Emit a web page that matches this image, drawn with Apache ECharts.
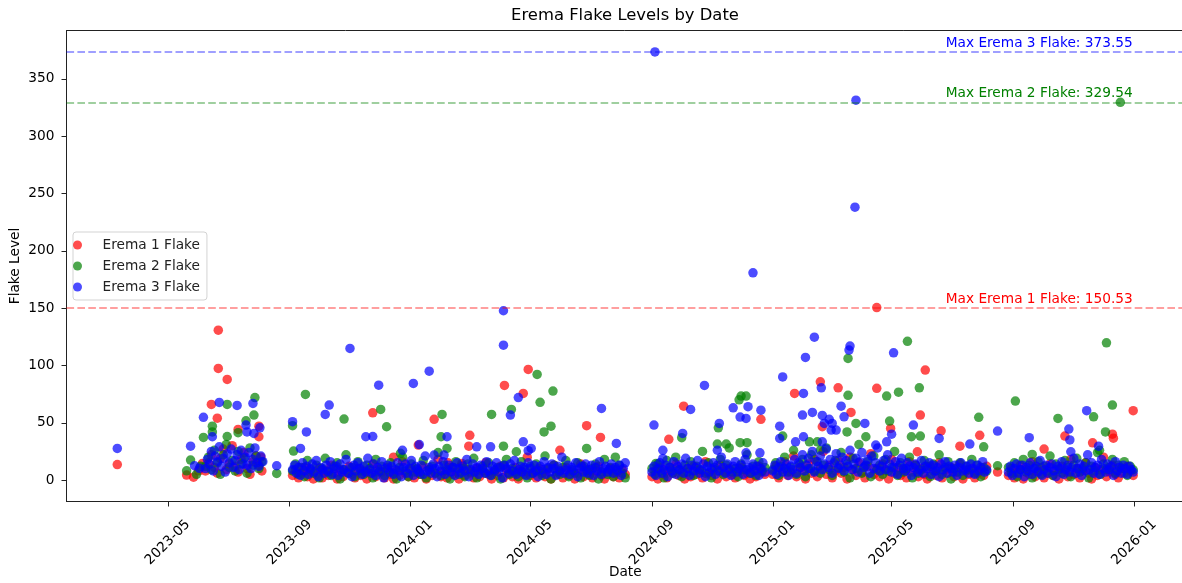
<!DOCTYPE html>
<html>
<head>
<meta charset="utf-8">
<title>Erema Flake Levels by Date</title>
<script src="https://cdn.jsdelivr.net/npm/echarts@6/dist/echarts.min.js"></script>
<style>
  html, body { margin: 0; padding: 0; background: #fff; }
  #chart { width: 1182px; height: 583px; }
</style>
</head>
<body>
<div id="chart"></div>
<script>
// each run of routine readings starts on one of these dates
const runStarts = ['2023-06-08', '2023-09-04', '2024-09-01', '2025-01-01', '2025-08-27']

// days between routine readings
const erema1Step = 3
const erema2Step = 3
const erema3Step = 2

// routine readings, one list per run
const erema1Runs = [
  [8, 15, 22, 11, 6, 19, 27, 9, 14, 30, 12, 7, 18, 24, 10, 5, 16, 21, 13, 8],
  [4, 9, 2, 6, 11, 3, 7, 1, 5, 10, 2, 8, 4, 13, 6, 1, 9, 3, 7, 12,
   5, 2, 10, 4, 8, 1, 6, 14, 3, 9, 7, 2, 11, 5, 1, 8, 4, 16, 6, 3,
   10, 2, 7, 5, 12, 1, 9, 4, 6, 18, 3, 8, 2, 11, 5, 7, 1, 13, 4, 9,
   6, 2, 10, 3, 8, 15, 5, 1, 7, 4, 12, 2, 9, 6, 3, 11, 1, 8, 5, 20,
   4, 7, 2, 10, 6, 3, 9, 1, 13, 5, 8, 2, 11, 4, 7, 1, 6, 14, 3, 9,
   5, 2, 8, 12, 4, 1, 7, 10, 3, 6, 2, 9, 5],
  [3, 8, 1, 11, 5, 2, 9, 6, 14, 4, 7, 1, 10, 3, 12, 5, 8, 2, 16, 6,
   4, 9, 1, 13, 7, 3, 10, 5, 2, 8, 11, 4, 6, 1, 9, 3, 12, 7, 5],
  [5, 12, 2, 9, 16, 4, 7, 21, 3, 11, 8, 1, 14, 6, 18, 3, 10, 25, 5, 13,
   2, 8, 17, 6, 11, 1, 20, 9, 4, 15, 7, 2, 12, 23, 5, 10, 3, 14, 8, 1,
   18, 6, 11, 4, 9, 2, 16, 7, 13, 3, 10, 5, 1, 12, 8, 4, 15, 2, 9, 6,
   11, 3, 7, 14, 1, 8, 5, 10, 2, 6, 9, 4, 12],
  [4, 10, 2, 7, 13, 1, 9, 5, 16, 3, 8, 11, 2, 6, 14, 4, 9, 1, 12, 7,
   3, 18, 5, 10, 2, 8, 15, 6, 1, 11, 4, 9, 20, 3, 7, 13, 5, 2, 10, 6,
   12, 8, 4]
]
const erema2Runs = [
  [12, 20, 9, 26, 15, 5, 22, 31, 11, 17, 8, 25, 14, 19, 6, 28, 13, 21, 10, 16],
  [8, 14, 5, 11, 3, 17, 9, 6, 13, 2, 10, 19, 7, 4, 12, 15, 1, 9, 22, 6,
   11, 3, 16, 8, 5, 13, 10, 2, 18, 7, 12, 4, 9, 15, 6, 1, 11, 20, 8, 3,
   14, 7, 10, 5, 17, 2, 9, 12, 6, 24, 4, 13, 8, 1, 11, 16, 5, 10, 3, 14,
   7, 19, 2, 9, 12, 6, 15, 4, 8, 11, 1, 13, 18, 5, 10, 7, 3, 16, 9, 2,
   12, 6, 14, 8, 4, 21, 10, 1, 13, 7, 5, 11, 17, 3, 9, 6, 15, 2, 12, 8,
   4, 10, 14, 1, 7, 18, 5, 11, 3, 9, 13, 6, 2],
  [10, 5, 14, 8, 2, 17, 11, 6, 20, 9, 3, 13, 7, 16, 4, 12, 9, 25, 6, 15,
   2, 11, 8, 18, 5, 13, 28, 7, 10, 3, 14, 9, 22, 6, 12, 4, 16, 8, 11],
  [9, 15, 4, 12, 20, 7, 11, 26, 5, 14, 18, 3, 10, 22, 8, 16, 6, 13, 28, 9,
   4, 17, 11, 24, 7, 14, 2, 19, 10, 31, 6, 12, 16, 3, 21, 9, 13, 5, 18, 8,
   11, 25, 4, 15, 7, 10, 20, 2, 13, 6, 9, 17, 12, 3, 14, 8, 22, 5, 11, 16,
   1, 10, 7, 15, 4, 12, 9, 18, 6, 13, 3, 11, 8],
  [11, 6, 15, 3, 9, 18, 7, 13, 2, 10, 16, 5, 12, 8, 21, 4, 14, 9, 6, 17,
   11, 3, 13, 19, 7, 10, 15, 2, 12, 8, 24, 5, 14, 9, 11, 18, 6, 13, 10, 16,
   4, 12, 9]
]
const erema3Runs = [
  [10, 18, 14, 25, 8, 21, 16, 29, 12, 19, 7, 23, 15, 27, 11, 17, 22, 9, 26, 14,
   20, 13, 24, 10, 18, 28, 15, 12, 21, 16],
  [9, 13, 6, 11, 4, 15, 8, 12, 5, 10, 14, 7, 17, 3, 11, 9, 6, 13, 8, 16,
   5, 10, 12, 4, 14, 7, 9, 18, 6, 11, 3, 13, 8, 15, 10, 5, 12, 7, 19, 9,
   6, 14, 4, 11, 8, 16, 2, 10, 13, 7, 12, 5, 9, 15, 8, 3, 11, 14, 6, 10,
   17, 4, 12, 9, 7, 13, 5, 21, 8, 11, 6, 14, 10, 3, 12, 8, 16, 5, 9, 13,
   7, 11, 4, 15, 10, 6, 12, 8, 18, 3, 9, 14, 7, 11, 5, 13, 10, 6, 16, 8,
   4, 12, 9, 15, 7, 11, 2, 13, 10, 6, 14, 8, 17, 5, 9, 12, 7, 11, 4, 15,
   10, 6, 13, 8, 3, 12, 9, 16, 5, 11, 7, 14, 10, 4, 12, 8, 20, 6, 9, 13,
   5, 11, 8, 15, 3, 10, 12, 7, 14, 6, 9, 13, 4, 11, 8, 16, 5, 10, 12, 7,
   9, 14, 6, 11, 8, 13, 4, 10, 15],
  [7, 12, 4, 10, 15, 6, 9, 13, 3, 11, 8, 16, 5, 12, 9, 14, 6, 19, 10, 4,
   13, 8, 11, 17, 6, 9, 14, 3, 12, 7, 10, 15, 5, 13, 8, 20, 11, 6, 14, 9,
   4, 12, 16, 7, 10, 13, 5, 18, 9, 11, 6, 14, 8, 12, 4, 10, 15, 7],
  [8, 13, 5, 11, 16, 7, 10, 14, 4, 12, 9, 18, 6, 15, 11, 22, 8, 13, 19, 10,
   25, 7, 16, 12, 21, 9, 14, 27, 11, 18, 6, 15, 23, 10, 13, 20, 8, 17, 12, 26,
   9, 14, 19, 7, 16, 24, 11, 13, 18, 6, 21, 10, 15, 28, 8, 12, 17, 9, 22, 14,
   7, 11, 16, 5, 13, 19, 10, 8, 15, 12, 4, 11, 14, 7, 9, 17, 6, 12, 10, 15,
   5, 13, 8, 11, 3, 14, 9, 16, 6, 12, 10, 7, 13, 4, 11, 15, 8, 9, 12, 6,
   14, 10, 5, 13, 8, 11, 16, 7, 9],
  [7, 12, 4, 10, 14, 6, 9, 13, 3, 11, 8, 15, 5, 10, 12, 7, 17, 4, 9, 13,
   6, 11, 14, 8, 3, 12, 10, 16, 5, 9, 13, 7, 11, 19, 6, 10, 14, 4, 12, 8,
   22, 9, 15, 6, 11, 13, 5, 18, 10, 7, 14, 9, 12, 4, 16, 8, 11, 6, 13, 10,
   5, 12, 9, 7]
]

// other dated readings (stray days and spikes)
const erema1Extra = [
  ['2023-03-11', 13.5], ['2023-05-20', 4.4], ['2023-05-27', 2.5], ['2023-06-01', 8.1], ['2023-06-05', 14.5],
  ['2023-06-14', 66], ['2023-06-20', 54], ['2023-06-21', 130.8], ['2023-06-21', 97.4], ['2023-06-30', 87.8],
  ['2023-07-11', 44.2], ['2023-08-01', 37.8], ['2023-08-01', 47], ['2023-08-03', 20],
  ['2023-11-24', 58.7], ['2023-12-15', 20], ['2024-01-09', 30.5], ['2024-01-25', 53], ['2024-02-08', 15],
  ['2024-02-22', 14.5], ['2024-02-29', 29.6], ['2024-03-01', 39], ['2024-04-05', 82.6], ['2024-04-24', 75.6],
  ['2024-04-29', 96.5], ['2024-05-31', 26], ['2024-06-27', 47.4], ['2024-07-11', 37.2],
  ['2024-09-18', 35.5], ['2024-10-03', 64.5], ['2024-12-20', 53],
  ['2025-01-23', 75.6], ['2025-02-18', 85.7], ['2025-02-20', 46.5], ['2025-03-08', 80.5], ['2025-03-21', 59],
  ['2025-04-16', 150.53], ['2025-04-16', 80], ['2025-04-30', 45], ['2025-05-27', 24.7], ['2025-05-30', 56.7],
  ['2025-06-04', 96], ['2025-06-20', 43], ['2025-07-09', 29.6], ['2025-07-29', 39], ['2025-08-16', 7],
  ['2025-10-02', 27], ['2025-10-23', 38.4], ['2025-11-20', 32.5], ['2025-12-10', 40], ['2025-12-11', 36.5],
  ['2025-12-31', 60.5]
]
const erema2Extra = [
  ['2023-05-20', 8.1], ['2023-05-24', 17.4], ['2023-05-30', 5], ['2023-06-03', 12],
  ['2023-06-06', 37.2], ['2023-06-15', 47], ['2023-06-15', 42], ['2023-06-30', 66], ['2023-06-30', 38],
  ['2023-07-11', 41.3], ['2023-07-19', 51.7], ['2023-07-27', 56.7], ['2023-07-28', 72], ['2023-08-19', 5.8],
  ['2023-09-04', 47.4], ['2023-09-05', 25.3], ['2023-09-17', 74.7], ['2023-10-26', 53.2], ['2023-12-02', 61.6],
  ['2023-12-08', 46.5], ['2023-12-22', 23.3],
  ['2024-02-01', 37.8], ['2024-02-02', 57.3], ['2024-02-07', 27.6], ['2024-03-23', 57.3], ['2024-04-04', 29.6],
  ['2024-04-12', 61.6], ['2024-04-17', 24.7], ['2024-05-08', 92.2], ['2024-05-11', 67.8], ['2024-05-15', 42],
  ['2024-05-22', 47], ['2024-05-24', 77.6], ['2024-06-27', 27.6], ['2024-07-26', 20],
  ['2024-09-05', 14.5], ['2024-10-01', 37], ['2024-11-06', 31.4], ['2024-11-07', 45.6], ['2024-11-15', 31.4],
  ['2024-11-28', 70], ['2024-11-29', 32.6], ['2024-11-30', 73.3], ['2024-12-05', 73.3], ['2024-12-06', 32.6],
  ['2025-01-11', 38.4], ['2025-02-07', 33.4], ['2025-02-15', 33.4], ['2025-02-18', 26], ['2025-03-17', 42],
  ['2025-03-18', 73.9], ['2025-03-18', 106.1], ['2025-03-26', 49.4], ['2025-04-05', 37.8], ['2025-04-26', 73.3],
  ['2025-04-29', 51.5], ['2025-05-08', 76.7], ['2025-05-17', 121], ['2025-05-21', 37.8], ['2025-05-29', 80.5],
  ['2025-05-30', 38.4], ['2025-07-28', 54.7], ['2025-08-02', 29], ['2025-08-16', 12.5],
  ['2025-09-03', 68.9], ['2025-09-20', 22.4], ['2025-10-16', 53.8], ['2025-11-21', 55.2], ['2025-11-27', 26],
  ['2025-12-03', 42], ['2025-12-04', 119.7], ['2025-12-10', 65.4], ['2025-12-18', 329.54]
]
const erema3Extra = [
  ['2023-03-11', 27.6], ['2023-05-24', 29.6], ['2023-05-28', 12.5], ['2023-06-02', 10.2], ['2023-06-06', 54.7],
  ['2023-06-15', 37.8], ['2023-06-22', 67.7], ['2023-07-10', 65.1], ['2023-07-19', 48], ['2023-07-20', 42],
  ['2023-07-26', 66.9], ['2023-07-27', 40.7], ['2023-08-02', 45.6], ['2023-08-19', 12.5],
  ['2023-09-04', 50.9], ['2023-09-12', 27.6], ['2023-09-18', 42], ['2023-10-07', 57.3], ['2023-10-11', 65.4],
  ['2023-11-01', 114.8], ['2023-11-17', 37.8], ['2023-11-24', 38], ['2023-11-30', 82.8],
  ['2023-12-24', 26], ['2024-01-04', 84.3], ['2024-01-10', 31], ['2024-01-20', 95], ['2024-01-25', 21.8],
  ['2024-02-04', 21.8], ['2024-02-07', 37.8], ['2024-03-08', 29], ['2024-03-22', 29], ['2024-04-04', 147.7],
  ['2024-04-04', 117.7], ['2024-04-11', 56.7], ['2024-04-19', 72], ['2024-04-24', 33.4], ['2024-04-29', 25.6],
  ['2024-05-02', 27.6], ['2024-07-12', 62.5], ['2024-07-27', 32],
  ['2024-09-03', 48], ['2024-09-04', 373.55], ['2024-09-12', 26], ['2024-09-12', 18.9], ['2024-10-02', 40.7],
  ['2024-10-10', 61.6], ['2024-10-24', 82.6], ['2024-11-06', 26], ['2024-11-08', 49.4], ['2024-11-22', 63],
  ['2024-11-29', 55], ['2024-12-05', 53.8], ['2024-12-05', 23.8], ['2024-12-07', 64], ['2024-12-12', 180.8],
  ['2024-12-19', 23.8], ['2024-12-20', 61],
  ['2025-01-08', 47], ['2025-01-08', 36.3], ['2025-01-11', 90], ['2025-01-24', 33.4], ['2025-01-31', 56.7],
  ['2025-02-01', 37.8], ['2025-02-01', 75.6], ['2025-02-03', 107], ['2025-02-10', 59], ['2025-02-12', 124.7],
  ['2025-02-19', 80.5], ['2025-02-20', 56.4], ['2025-02-20', 33.4], ['2025-02-22', 49.4], ['2025-02-27', 53],
  ['2025-03-01', 43.6], ['2025-03-02', 49.4], ['2025-03-06', 43.6], ['2025-03-11', 64.5], ['2025-03-14', 55.2],
  ['2025-03-19', 113.4], ['2025-03-20', 116.9], ['2025-03-25', 238.1], ['2025-03-26', 331.4], ['2025-04-04', 49.4],
  ['2025-04-15', 30.5], ['2025-04-26', 33.4], ['2025-05-01', 40], ['2025-05-03', 111], ['2025-05-23', 48],
  ['2025-06-18', 36.3], ['2025-07-19', 31.4], ['2025-08-16', 42.7],
  ['2025-09-17', 37], ['2025-10-27', 44.5], ['2025-10-28', 35], ['2025-10-29', 24.7], ['2025-11-14', 60.5],
  ['2025-11-26', 29.6]
]

const tickMonths = ['2023-05', '2023-09', '2024-01', '2024-05', '2024-09', '2025-01', '2025-05', '2025-09', '2026-01']
const yTicks = [0, 50, 100, 150, 200, 250, 300, 350]

const DAY = 86400000
const font = 'DejaVu Sans'

function toTime (s, addDays) {
  const [y, m, d] = s.split('-').map(Number)
  return new Date(y, m - 1, (d || 1) + (addDays || 0)).getTime()
}

function buildPoints (runs, step, extra) {
  const pts = []
  runs.forEach((vals, r) => {
    vals.forEach((v, i) => pts.push([toTime(runStarts[r], i * step), v]))
  })
  extra.forEach(([d, v]) => pts.push([toTime(d), v]))
  return pts
}

const erema1 = buildPoints(erema1Runs, erema1Step, erema1Extra)
const erema2 = buildPoints(erema2Runs, erema2Step, erema2Extra)
const erema3 = buildPoints(erema3Runs, erema3Step, erema3Extra)

const lastTime = Math.max(...[erema1, erema2, erema3].flat().map(p => p[0]))
const xTicks = tickMonths.map(m => toTime(m))

function makeSeries (name, points, color) {
  const maxVal = Math.max(...points.map(p => p[1]))
  return {
    name,
    type: 'scatter',
    data: points,
    symbolSize: 9.5,
    large: false,
    itemStyle: { color, opacity: 0.7 },
    emphasis: { disabled: true },
    markLine: {
      silent: true,
      symbol: 'none',
      label: { show: false },
      lineStyle: { type: [7.6, 3.3], width: 1.5, color, opacity: 0.5 },
      data: [{ yAxis: maxVal }]
    },
    markPoint: {
      silent: true,
      symbol: 'circle',
      symbolSize: 1,
      itemStyle: { color: 'rgba(0,0,0,0)' },
      label: {
        show: true,
        position: [0, -1],
        align: 'right',
        verticalAlign: 'bottom',
        color,
        fontSize: 13.7,
        fontFamily: font,
        formatter: `Max ${name}: ${maxVal.toFixed(2)}`
      },
      data: [{ coord: [lastTime, maxVal] }]
    }
  }
}

const chart = echarts.init(document.getElementById('chart'))
chart.setOption({
  animation: false,
  backgroundColor: '#fff',
  textStyle: { fontFamily: font },
  title: {
    text: 'Erema Flake Levels by Date',
    left: 625,
    top: 8,
    textAlign: 'center',
    padding: 0,
    textStyle: { fontSize: 16.4, fontWeight: 'normal', color: '#000', fontFamily: font }
  },
  legend: {
    orient: 'vertical',
    left: 73,
    top: 232,
    itemWidth: 40,
    itemHeight: 9,
    itemGap: 5,
    padding: [5, 7, 5, 0],
    borderColor: '#d3d3d3',
    borderWidth: 1,
    borderRadius: 3,
    backgroundColor: 'rgba(255,255,255,0.8)',
    textStyle: { fontSize: 13.7, lineHeight: 16, color: '#222', fontFamily: font },
    data: [
      { name: 'Erema 1 Flake', icon: 'circle' },
      { name: 'Erema 2 Flake', icon: 'circle' },
      { name: 'Erema 3 Flake', icon: 'circle' }
    ]
  },
  grid: {
    left: 66.5,
    right: -2,
    top: 30.5,
    bottom: 81.5,
    outerBoundsMode: 'none',
    show: true,
    borderColor: '#222',
    borderWidth: 1
  },
  xAxis: {
    // dates are kept as timestamps on a plain value axis
    type: 'value',
    min: toTime('2023-01-19') - 0.3 * DAY,
    max: toTime('2026-02-20') + 0.3 * DAY,
    name: 'Date',
    nameLocation: 'middle',
    nameGap: 64,
    nameMoveOverlap: false,
    nameTextStyle: { fontSize: 13.7, color: '#000', fontFamily: font },
    splitLine: { show: false },
    axisLine: { show: true, onZero: false, lineStyle: { color: '#222', width: 1 } },
    axisTick: { show: true, customValues: xTicks, length: 5, lineStyle: { color: '#222', width: 1 } },
    axisLabel: {
      customValues: xTicks,
      rotate: 45,
      align: 'center',
      verticalAlign: 'middle',
      margin: 41,
      fontSize: 13.7,
      color: '#000',
      fontFamily: font,
      formatter: v => {
        const d = new Date(v)
        return d.getFullYear() + '-' + String(d.getMonth() + 1).padStart(2, '0')
      }
    }
  },
  yAxis: {
    type: 'value',
    min: -18.7,
    max: 392.2,
    name: 'Flake Level',
    nameLocation: 'middle',
    nameGap: 44,
    nameMoveOverlap: false,
    nameTextStyle: { fontSize: 13.7, color: '#000', fontFamily: font },
    splitLine: { show: false },
    axisLine: { show: true, onZero: false, lineStyle: { color: '#222', width: 1 } },
    axisTick: { show: true, customValues: yTicks, length: 5, lineStyle: { color: '#222', width: 1 } },
    axisLabel: { customValues: yTicks, margin: 12, fontSize: 13.7, color: '#000', fontFamily: font }
  },
  series: [
    makeSeries('Erema 1 Flake', erema1, '#ff0000'),
    makeSeries('Erema 2 Flake', erema2, '#008000'),
    makeSeries('Erema 3 Flake', erema3, '#0000ff')
  ]
})
</script>
</body>
</html>
